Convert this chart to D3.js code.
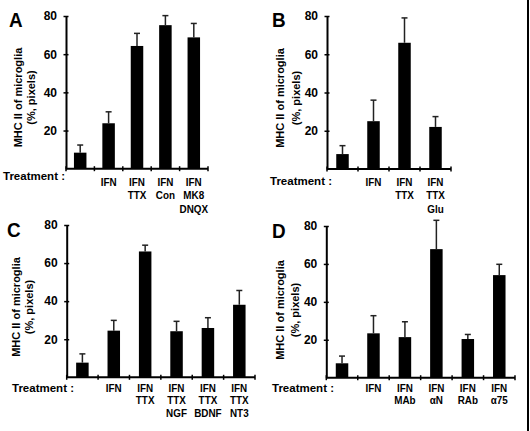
<!DOCTYPE html>
<html><head><meta charset="utf-8">
<script src="https://cdn.jsdelivr.net/npm/d3@7"></script>
<style>
html,body{margin:0;padding:0;background:#fff;}
svg{display:block;}
text{font-family:"Liberation Sans",Arial,Helvetica,sans-serif;font-weight:bold;fill:#000;}
</style></head>
<body>
<svg id="chart" width="530" height="431"></svg>
<script>
// ---- data ----
const yTicks = [20, 40, 60, 80];
const yTitle = ["MHC II of microglia", "(%, pixels)"];
const treatmentLabel = "Treatment :";

const catsA = [[], ["IFN"], ["IFN","TTX"], ["IFN","Con"], ["IFN","MK8","DNQX"]];
const meanA = [8.4, 23.8, 64.3, 75.2, 68.8];
const errA  = [4.0, 6.0, 6.6, 5.0, 7.3];

const catsB = [[], ["IFN"], ["IFN","TTX"], ["IFN","TTX","Glu"]];
const meanB = [7.8, 25.0, 66.0, 22.0];
const errB  = [4.4, 11.0, 13.0, 5.4];

const catsC = [[], ["IFN"], ["IFN","TTX"], ["IFN","TTX","NGF"], ["IFN","TTX","BDNF"], ["IFN","TTX","NT3"]];
const meanC = [7.7, 24.5, 66.1, 24.2, 25.9, 38.1];
const errC  = [4.6, 5.4, 3.3, 5.2, 5.4, 7.5];

const catsD = [[], ["IFN"], ["IFN","MAb"], ["IFN","αN"], ["IFN","RAb"], ["IFN","α75"]];
const meanD = [7.6, 23.4, 21.4, 67.8, 20.4, 54.1];
const errD  = [3.8, 9.3, 8.1, 15.2, 2.4, 5.7];

// ---- layout ----
const panels = [
  {letter:"A", cats:catsA, mean:meanA, err:errA, x0:66,  x1:208, yTop:16,  yZero:168.7,
   lx:9,   ly:27,  t1:18,  t2:31,  tc:97.5, trX:3,   trY:180, labY:186, lh:13.3},
  {letter:"B", cats:catsB, mean:meanB, err:errB, x0:327, x1:451, yTop:16,  yZero:169,
   lx:272, ly:27,  t1:280, t2:296, tc:98,   trX:270, trY:185, labY:186, lh:13.3},
  {letter:"C", cats:catsC, mean:meanC, err:errC, x0:66.7,x1:255, yTop:225, yZero:377.3,
   lx:7,   ly:237, t1:16,  t2:29,  tc:307,  trX:12,  trY:392, labY:392, lh:12.5},
  {letter:"D", cats:catsD, mean:meanD, err:errD, x0:326.3,x1:515,yTop:226, yZero:377.7,
   lx:272, ly:238, t1:280, t2:295, tc:310,  trX:272, trY:392, labY:392, lh:12.5}
];

const svg = d3.select("#chart");
svg.append("rect").attr("width",530).attr("height",431).attr("fill","#fff");
svg.append("line").attr("x1",528).attr("x2",528).attr("y1",0).attr("y2",431)
  .attr("stroke","#000").attr("stroke-width",2);

panels.forEach(p => {
  const g = svg.append("g");
  const idx = p.cats.map((c,i)=>i);
  const x = d3.scaleBand().domain(idx).range([p.x0, p.x1]).paddingInner(0).paddingOuter(0);
  const y = d3.scaleLinear().domain([0,80]).range([p.yZero, p.yTop]);
  const bw = 12.5;
  const cx = i => x(i)+x.bandwidth()/2;

  // bars
  g.selectAll("rect.bar").data(p.mean).join("rect")
    .attr("x",(d,i)=>cx(i)-bw/2)
    .attr("width",bw)
    .attr("y",d=>y(d))
    .attr("height",d=>y(0)-y(d))
    .attr("fill","#000");

  // error bars (upper)
  const eg = g.selectAll("g.err").data(p.mean).join("g");
  eg.append("line")
    .attr("x1",(d,i)=>cx(i)).attr("x2",(d,i)=>cx(i))
    .attr("y1",d=>y(d)).attr("y2",(d,i)=>y(d+p.err[i]))
    .attr("stroke","#222").attr("stroke-width",1.5);
  eg.append("line")
    .attr("x1",(d,i)=>cx(i)-3).attr("x2",(d,i)=>cx(i)+3)
    .attr("y1",(d,i)=>y(d+p.err[i])).attr("y2",(d,i)=>y(d+p.err[i]))
    .attr("stroke","#222").attr("stroke-width",1.5);

  // y axis
  const yAxis = d3.axisLeft(y).tickValues(yTicks).tickSizeInner(0).tickSizeOuter(0).tickPadding(9);
  const ya = g.append("g").attr("transform",`translate(${p.x0},0)`).call(yAxis);
  ya.select(".domain").attr("stroke","#000").attr("stroke-width",2);
  ya.selectAll(".tick text").style("font-size","12px").style("font-family",'"Liberation Sans",Arial,sans-serif').style("font-weight","bold");
  ya.selectAll(".tick").append("line").attr("x1",-2.5).attr("x2",2.5).attr("stroke","#000").attr("stroke-width",1.5);

  // x axis line with boundary ticks
  g.append("line").attr("x1",p.x0).attr("x2",p.x1).attr("y1",p.yZero).attr("y2",p.yZero)
    .attr("stroke","#000").attr("stroke-width",2);
  const bounds = idx.map(i=>x(i)).concat([p.x1]);
  g.selectAll("line.xt").data(bounds).join("line")
    .attr("x1",d=>d).attr("x2",d=>d).attr("y1",p.yZero-2.5).attr("y2",p.yZero+2.5)
    .attr("stroke","#000").attr("stroke-width",1.5);

  // category labels (slightly condensed, as in the original)
  p.cats.forEach((lines,i)=>{
    const t = g.append("text").attr("text-anchor","middle")
      .attr("transform",`translate(${cx(i)},${p.labY}) scale(0.86,1)`)
      .style("font-size","11.5px");
    lines.forEach((l,k)=>{
      t.append("tspan").attr("x",0).attr("dy",k===0?0:p.lh).text(l);
    });
  });

  // treatment label
  g.append("text").attr("x",p.trX).attr("y",p.trY).style("font-size","11.5px").text(treatmentLabel);

  // panel letter
  g.append("text").attr("transform",`translate(${p.lx},${p.ly}) scale(0.9,1)`).style("font-size","21px").text(p.letter);

  // y title
  [p.t1, p.t2].forEach((tx,k)=>{
    g.append("text").attr("text-anchor","middle")
      .attr("transform",`translate(${tx+4},${p.tc}) rotate(-90)`)
      .style("font-size","11px").text(yTitle[k]);
  });
});
</script>
</body></html>
